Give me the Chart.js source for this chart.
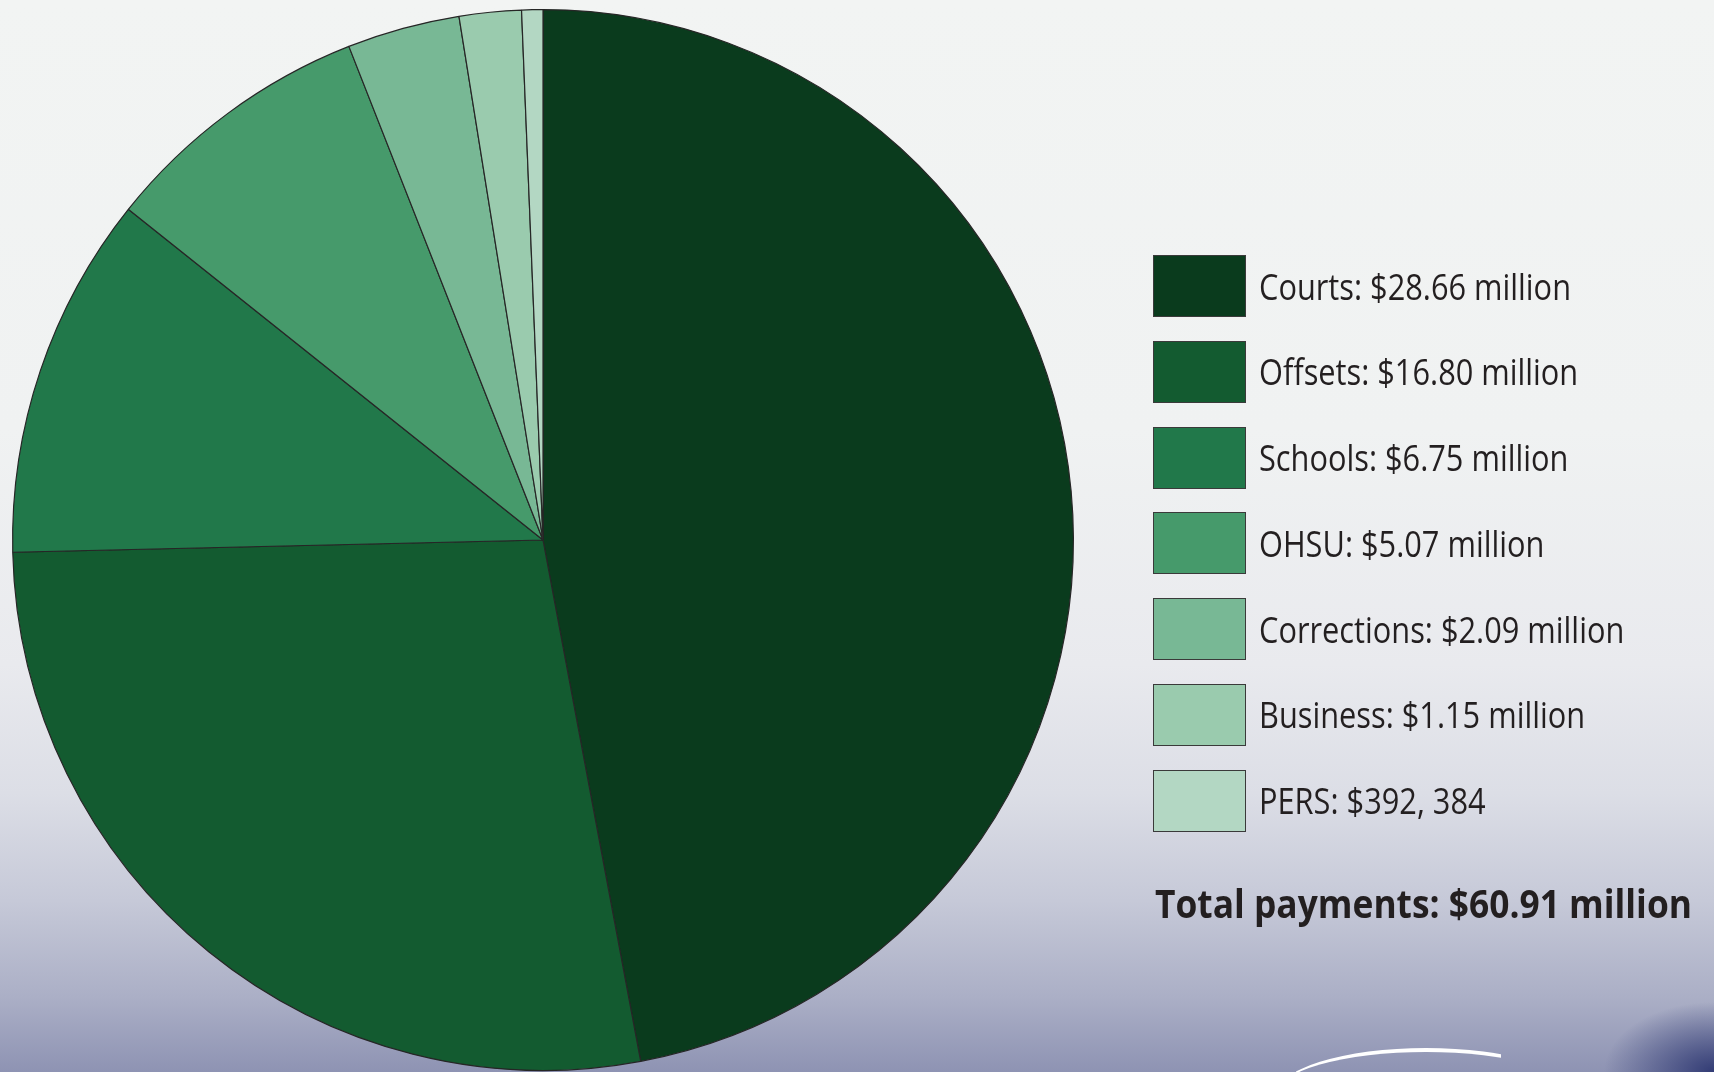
<!DOCTYPE html>
<html>
<head>
<meta charset="utf-8">
<script src="https://cdn.jsdelivr.net/npm/chart.js@4"></script>
<style>
  html, body { margin: 0; padding: 0; }
  body {
    width: 1714px; height: 1072px; overflow: hidden; position: relative;
    background:
      radial-gradient(ellipse 110px 70px at 100% 100%, rgba(40,50,110,0.9) 0%, rgba(40,50,110,0.45) 50%, rgba(40,50,110,0) 100%),
      linear-gradient(to bottom, #f2f4f3 0%, #f0f2f2 40%, #e9eaee 62%, #dcdee6 74%, #c6c9d8 84%, #abafc6 93%, #8e93b3 100%);
    font-family: "Open Sans", sans-serif;
    color: #231f20;
  }
  #chart { position: absolute; left: 0; top: 0; }
  #legend { position: absolute; left: 1153px; top: 255px; }
  .item { display: flex; align-items: center; height: 62px; margin-bottom: 23.8px; }
  .box { width: 91px; height: 60px; border: 1px solid #3a3a3a; box-sizing: content-box; flex: none; }
  .label { margin-left: 13px; font-size: 36px; white-space: nowrap; transform-origin: 0 50%; }
  #total { position: absolute; left: 1155px; top: 883px; font-size: 40px; line-height: 1; font-weight: 700;
           white-space: nowrap; transform-origin: 0 50%; }
  #swoosh { position: absolute; left: 1296px; top: 1048px; width: 205px; height: 30px; overflow: hidden; }
  #swoosh div { width: 300px; height: 90px; border-top: 4px solid #fff; border-radius: 50%; margin-left: -20px; }
</style>
</head>
<body>
<div id="swoosh"><div></div></div>
<canvas id="chart" width="1714" height="1072"></canvas>
<div id="legend"></div>
<div id="total">Total payments: $60.91 million</div>
<script>
// Data
const categories = ['Courts', 'Offsets', 'Schools', 'OHSU', 'Corrections', 'Business', 'PERS'];
const amounts = [28.66, 16.80, 6.75, 5.07, 2.09, 1.15, 0.392384];
const legendLabels = [
  'Courts: $28.66 million',
  'Offsets: $16.80 million',
  'Schools: $6.75 million',
  'OHSU: $5.07 million',
  'Corrections: $2.09 million',
  'Business: $1.15 million',
  'PERS: $392, 384'
];
const sliceColors = ['#0a3b1d', '#135b30', '#21784a', '#469a6b', '#78b895', '#9acbae', '#b3d7c3'];

// Pie
const ctx = document.getElementById('chart').getContext('2d');
new Chart(ctx, {
  type: 'pie',
  data: {
    labels: categories,
    datasets: [{
      data: amounts,
      backgroundColor: sliceColors,
      borderColor: '#262626',
      borderWidth: 1.2,
      hoverOffset: 0
    }]
  },
  options: {
    responsive: false,
    animation: false,
    layout: { padding: { left: 12, top: 9, right: 640, bottom: 1 } },
    plugins: {
      legend: { display: false },
      tooltip: { enabled: false }
    }
  }
});

// Legend (html)
const legend = document.getElementById('legend');
legend.innerHTML = legendLabels.map((txt, i) => `
  <div class="item">
    <div class="box" style="background:${sliceColors[i]}"></div>
    <div class="label">${txt}</div>
  </div>`).join('');

// squeeze text so it matches the narrower original face
function fitWidth(el, target) {
  const w = el.getBoundingClientRect().width;
  if (w > 0) el.style.transform = `scaleX(${target / w})`;
}
const labels = document.querySelectorAll('.label');
const firstW = labels[0].getBoundingClientRect().width;
const squeeze = 312 / firstW;
labels.forEach(el => { el.style.transform = `scaleX(${squeeze})`; });
fitWidth(document.getElementById('total'), 537);
</script>
</body>
</html>
